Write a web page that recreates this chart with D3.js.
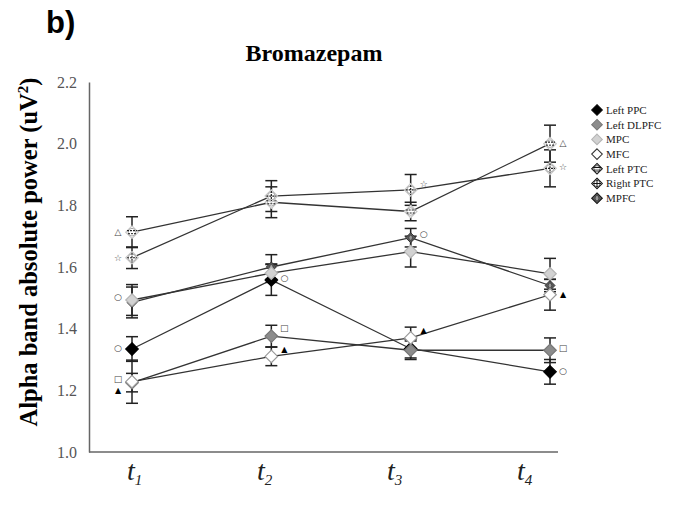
<!DOCTYPE html>
<html>
<head>
<meta charset="utf-8">
<script src="https://cdn.jsdelivr.net/npm/d3@7"></script>
<style>
  html, body { margin: 0; padding: 0; background: #fff; }
</style>
</head>
<body>
<svg id="chart" width="682" height="511"></svg>
<script>
// time points
const times = ["t1", "t2", "t3", "t4"];
const timeSubs = ["1", "2", "3", "4"];

// series (means) and their error bars
const seriesNames = ["Left PPC", "Left DLPFC", "MPC", "MFC", "Left PTC", "Right PTC", "MPFC"];
const leftPPC = [1.334, 1.558, 1.335, 1.26];
const leftPPCErr = [0.04, 0.05, 0.03, 0.04];
const leftDLPFC = [1.225, 1.376, 1.33, 1.33];
const leftDLPFCErr = [0.03, 0.035, 0.03, 0.04];
const mpc = [1.493, 1.58, 1.65, 1.578];
const mpcErr = [0.05, 0.03, 0.05, 0.05];
const mfc = [1.228, 1.31, 1.37, 1.51];
const mfcErr = [0.07, 0.03, 0.035, 0.05];
const leftPTC = [1.713, 1.81, 1.78, 2.0];
const leftPTCErr = [0.05, 0.05, 0.03, 0.06];
const rightPTC = [1.63, 1.83, 1.85, 1.92];
const rightPTCErr = [0.035, 0.05, 0.05, 0.06];
const mpfc = [1.485, 1.60, 1.695, 1.54];
const mpfcErr = [0.05, 0.04, 0.03, 0.02];

// y axis ticks
const yTicks = [1.0, 1.2, 1.4, 1.6, 1.8, 2.0, 2.2];

// significance symbols next to points
const sigMarks = [
  { t: "t1", v: 1.713, s: "\u25B3" },
  { t: "t1", v: 1.629, s: "\u2606" },
  { t: "t1", v: 1.503, s: "\u25CB" },
  { t: "t1", v: 1.337, s: "\u25CB" },
  { t: "t1", v: 1.237, s: "\u25A1" },
  { t: "t1", v: 1.201, s: "\u25B2" },
  { t: "t2", v: 1.564, s: "\u25CB" },
  { t: "t2", v: 1.402, s: "\u25A1" },
  { t: "t2", v: 1.334, s: "\u25B2" },
  { t: "t3", v: 1.869, s: "\u2606" },
  { t: "t3", v: 1.707, s: "\u25CB" },
  { t: "t3", v: 1.396, s: "\u25B2" },
  { t: "t4", v: 2.002, s: "\u25B3" },
  { t: "t4", v: 1.924, s: "\u2606" },
  { t: "t4", v: 1.512, s: "\u25B2" },
  { t: "t4", v: 1.337, s: "\u25A1" },
  { t: "t4", v: 1.263, s: "\u25CB" }
];

const series = [
  { name: seriesNames[0], values: leftPPC, err: leftPPCErr, fill: "#000", stroke: "#000", deco: null },
  { name: seriesNames[1], values: leftDLPFC, err: leftDLPFCErr, fill: "#8c8c8c", stroke: "#777", deco: null },
  { name: seriesNames[2], values: mpc, err: mpcErr, fill: "#d2d2d2", stroke: "#b5b5b5", deco: null },
  { name: seriesNames[3], values: mfc, err: mfcErr, fill: "#fff", stroke: "#9a9a9a", deco: null },
  { name: seriesNames[4], values: leftPTC, err: leftPTCErr, fill: "#fff", stroke: "#c8c8c8", deco: "ring" },
  { name: seriesNames[5], values: rightPTC, err: rightPTCErr, fill: "#fff", stroke: "#c8c8c8", deco: "cross" },
  { name: seriesNames[6], values: mpfc, err: mpfcErr, fill: "#5a5a5a", stroke: "#333", deco: "dot" }
];

const svg = d3.select("#chart");
const margin = { left: 89, right: 558, top: 82, bottom: 452 };

const x = d3.scalePoint().domain(times).range([132, 550]);
const xLabel = d3.scalePoint().domain(times).range([127, 517]);
const y = d3.scaleLinear().domain([1.0, 2.2]).range([margin.bottom, margin.top]);

// panel letter + title
svg.append("text")
  .attr("x", 46).attr("y", 33)
  .attr("font-family", "Liberation Sans, Arial, sans-serif")
  .attr("font-weight", "bold").attr("font-size", 31)
  .text("b)");

svg.append("text")
  .attr("x", 314).attr("y", 61)
  .attr("text-anchor", "middle")
  .attr("font-family", "Liberation Serif, Times New Roman, serif")
  .attr("font-weight", "bold").attr("font-size", 24)
  .text("Bromazepam");

// y axis
const yAxis = svg.append("g")
  .attr("transform", `translate(${margin.left},0)`)
  .call(d3.axisLeft(y).tickValues(yTicks).tickFormat(d3.format(".1f")).tickSize(0).tickPadding(12));
yAxis.select(".domain").attr("stroke", "#666").attr("stroke-width", 1.5);
yAxis.selectAll("text")
  .attr("font-family", "Liberation Serif, Times New Roman, serif")
  .attr("font-size", 16).attr("fill", "#555");

// x axis line
svg.append("line")
  .attr("x1", margin.left).attr("x2", margin.right)
  .attr("y1", y(1.0)).attr("y2", y(1.0))
  .attr("stroke", "#666").attr("stroke-width", 1.5);

// x labels (italic t with subscript)
const xl = svg.append("g").selectAll("text")
  .data(times).join("text")
  .attr("x", d => xLabel(d)).attr("y", 480)
  .attr("font-family", "Liberation Serif, Times New Roman, serif")
  .attr("font-style", "italic").attr("font-size", 28).attr("fill", "#222");
xl.append("tspan").text("t");
xl.append("tspan").attr("dy", 5).attr("font-size", 15).text((d, i) => timeSubs[i]);

// y label
const yl = svg.append("text")
  .attr("transform", "translate(37,252) rotate(-90)")
  .attr("text-anchor", "middle")
  .attr("font-family", "Liberation Serif, Times New Roman, serif")
  .attr("font-weight", "bold").attr("font-size", 24.5);
yl.append("tspan").text("Alpha band absolute power (uV");
yl.append("tspan").attr("dy", -9).attr("font-size", 15).text("2");
yl.append("tspan").attr("dy", 9).text(")");

// lines
const line = d3.line().x((d, i) => x(times[i])).y(d => y(d));
svg.append("g").selectAll("path")
  .data(series).join("path")
  .attr("d", s => line(s.values))
  .attr("fill", "none").attr("stroke", "#333").attr("stroke-width", 1.3);

// error bars
const eb = svg.append("g").attr("stroke", "#222").attr("stroke-width", 1.5);
series.forEach(s => {
  s.values.forEach((v, i) => {
    const cx = x(times[i]);
    eb.append("line").attr("x1", cx).attr("x2", cx).attr("y1", y(v - s.err[i])).attr("y2", y(v + s.err[i]));
    [v - s.err[i], v + s.err[i]].forEach(e => {
      eb.append("line").attr("x1", cx - 6).attr("x2", cx + 6).attr("y1", y(e)).attr("y2", y(e));
    });
  });
});

// markers
const diamond = d3.symbol().type(d3.symbolDiamond2).size(100);
function drawMarker(g, s, strong) {
  const ink = strong ? "#111" : "#222";
  g.append("path").attr("d", diamond()).attr("fill", s.fill).attr("stroke", s.stroke).attr("stroke-width", 1.2);
  if (s.deco === "ring") {
    g.append("circle").attr("r", 3.8).attr("fill", "none").attr("stroke", strong ? "#333" : "#aaa").attr("stroke-width", 1);
    g.append("line").attr("x1", -5).attr("x2", 5).attr("y1", -1.5).attr("y2", -1.5).attr("stroke", ink).attr("stroke-width", 1.2).attr("stroke-dasharray", strong ? null : "2,1");
    g.append("line").attr("x1", -4).attr("x2", 4).attr("y1", 1.5).attr("y2", 1.5).attr("stroke", ink).attr("stroke-width", 1).attr("stroke-dasharray", strong ? null : "2,1");
  } else if (s.deco === "cross") {
    g.append("circle").attr("r", 3.8).attr("fill", "none").attr("stroke", strong ? "#333" : "#aaa").attr("stroke-width", 1);
    g.append("line").attr("x1", -5).attr("x2", 5).attr("stroke", ink).attr("stroke-width", 1.2).attr("stroke-dasharray", strong ? null : "2,1");
    g.append("line").attr("y1", -5).attr("y2", 5).attr("stroke", ink).attr("stroke-width", 1.2).attr("stroke-dasharray", strong ? null : "2,1");
  } else if (s.deco === "dot") {
    g.append("ellipse").attr("rx", 2.2).attr("ry", 3.2).attr("fill", "#999").attr("stroke", "#333").attr("stroke-width", 0.8);
  }
}
// MPFC is drawn first so it sits under the other markers
const markerOrder = [6, 0, 1, 2, 3, 4, 5];
markerOrder.forEach(k => {
  const s = series[k];
  s.values.forEach((v, i) => {
    const g = svg.append("g").attr("transform", `translate(${x(times[i])},${y(v)})` + (k === 6 ? " scale(0.8)" : ""));
    drawMarker(g, s, false);
  });
});

// significance symbols
svg.append("g").selectAll("text")
  .data(sigMarks).join("text")
  .attr("x", d => x(d.t) + (d.t === "t1" ? -14 : 13))
  .attr("y", d => y(d.v))
  .attr("dy", "0.35em")
  .attr("text-anchor", "middle")
  .attr("font-family", "DejaVu Sans, sans-serif")
  .attr("font-size", d => d.s === "\u25B2" ? 8 : 9)
  .attr("fill", d => d.s === "\u25B2" ? "#000" : "#444")
  .text(d => d.s);

// legend
const legend = svg.append("g").attr("transform", "translate(597,110)");
const li = legend.selectAll("g").data(series).join("g")
  .attr("transform", (d, i) => `translate(0,${i * 14.7})`);
li.each(function(s) {
  const g = d3.select(this).append("g").attr("transform", "scale(0.85)");
  drawMarker(g, Object.assign({}, s, { stroke: s.deco ? "#111" : (s.fill === "#fff" ? "#333" : s.stroke) }), true);
});
li.append("text")
  .attr("x", 9).attr("dy", "0.35em")
  .attr("font-family", "Liberation Serif, Times New Roman, serif")
  .attr("font-size", 11).attr("fill", "#222")
  .text(d => d.name);
</script>
</body>
</html>
